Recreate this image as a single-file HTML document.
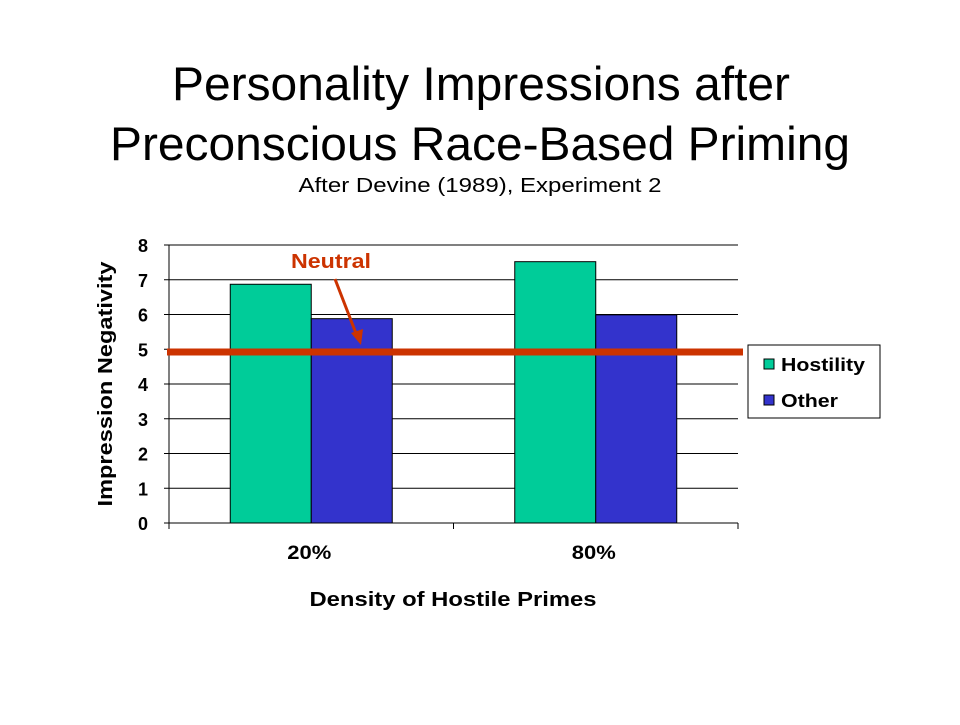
<!DOCTYPE html>
<html><head><meta charset="utf-8"><style>
body{margin:0;background:#fff;font-family:"Liberation Sans",Arial,sans-serif}
</style></head><body>
<svg width="960" height="720" viewBox="0 0 960 720">
<text x="481" y="100" text-anchor="middle" font-size="47" textLength="618" lengthAdjust="spacingAndGlyphs">Personality Impressions after</text>
<text x="480" y="160" text-anchor="middle" font-size="47" textLength="740" lengthAdjust="spacingAndGlyphs">Preconscious Race-Based Priming</text>
<text x="480" y="192" text-anchor="middle" font-size="20" textLength="363" lengthAdjust="spacingAndGlyphs">After Devine (1989), Experiment 2</text>
<g id="grid"></g>
<g id="bars"></g>
<g id="axes"></g>
<text x="0" y="0" transform="translate(112,384) rotate(-90)" text-anchor="middle" font-size="20" font-weight="bold" textLength="245" lengthAdjust="spacingAndGlyphs">Impression Negativity</text>
<text x="453" y="606" text-anchor="middle" font-size="20" font-weight="bold" textLength="287" lengthAdjust="spacingAndGlyphs">Density of Hostile Primes</text>
<g>
<rect x="748" y="345" width="132" height="73" fill="#fff" stroke="#000"/>
<rect x="764" y="359" width="10" height="10" fill="#00cc99" stroke="#000"/>
<text x="781" y="371" font-size="18" font-weight="bold" textLength="84" lengthAdjust="spacingAndGlyphs">Hostility</text>
<rect x="764" y="395" width="10" height="10" fill="#3333cc" stroke="#000"/>
<text x="781" y="407" font-size="18" font-weight="bold" textLength="57" lengthAdjust="spacingAndGlyphs">Other</text>
</g>
<g id="neutral"></g>
</svg>
<script>
const categories=["20%","80%"];
const hostility=[6.87,7.52];
const other=[5.88,5.99];
const yTicks=[0,1,2,3,4,5,6,7,8];
const neutralValue=4.92;
const NS="http://www.w3.org/2000/svg";
const X0=169,X1=738,Y0=523,Y1=245,YMAX=8;
function y(v){return Y0-(v/YMAX)*(Y0-Y1);}
const catW=(X1-X0)/categories.length;
function cx(i){return X0+catW*(i+0.5);}
function mk(t,a,p){const e=document.createElementNS(NS,t);for(const k in a)e.setAttribute(k,a[k]);p.appendChild(e);return e;}
const g=document.getElementById('grid'),b=document.getElementById('bars'),ax=document.getElementById('axes'),nt=document.getElementById('neutral');
yTicks.forEach(t=>{
  if(t>0){const l=mk('line',{x1:X0,x2:X1,y1:y(t),y2:y(t),stroke:'#000','stroke-width':1},g);
  
  }
  const tk=mk('line',{x1:X0-5,x2:X0,y1:y(t),y2:y(t),stroke:'#000'},ax);
  
  
  const tx=mk('text',{x:X0-21,y:y(t)+7,'text-anchor':'end','font-size':18,'font-weight':'bold'},ax);
  tx.textContent=t;
  
  
});
const bw=81;
categories.forEach((c,i)=>{
  const h=mk('rect',{x:cx(i)-bw,y:y(hostility[i]),width:bw,height:Y0-y(hostility[i]),fill:'#00cc99',stroke:'#000'},b);
  
  
  const o=mk('rect',{x:cx(i),y:y(other[i]),width:bw,height:Y0-y(other[i]),fill:'#3333cc',stroke:'#000'},b);
  
  
  const t=mk('text',{x:cx(i)-2,y:559,'text-anchor':'middle','font-size':19,'font-weight':'bold',textLength:44,lengthAdjust:'spacingAndGlyphs'},ax);
  t.textContent=c;
  
  
});
for(let i=0;i<=categories.length;i++){
  const tk=mk('line',{x1:X0+catW*i,x2:X0+catW*i,y1:Y0,y2:Y0+6,stroke:'#000'},ax);
  
  
}
const ya=mk('line',{x1:X0,x2:X0,y1:Y1,y2:Y0,stroke:'#000'},ax);


const xa=mk('line',{x1:X0,x2:X1,y1:Y0,y2:Y0,stroke:'#000'},ax);


const nl=mk('line',{x1:167,x2:743,y1:y(neutralValue),y2:y(neutralValue),stroke:'#cc3300','stroke-width':7},nt);


const ar=mk('line',{x1:335,y1:279,x2:357,y2:336,stroke:'#cc3300','stroke-width':3},nt);


const ah=mk('polygon',{points:'361,345 351,333 363,329',fill:'#cc3300'},nt);


const nlab=mk('text',{x:331,y:268,'text-anchor':'middle','font-size':20,'font-weight':'bold',fill:'#cc3300',textLength:80,lengthAdjust:'spacingAndGlyphs'},nt);
nlab.textContent='Neutral';


</script>
</body></html>
